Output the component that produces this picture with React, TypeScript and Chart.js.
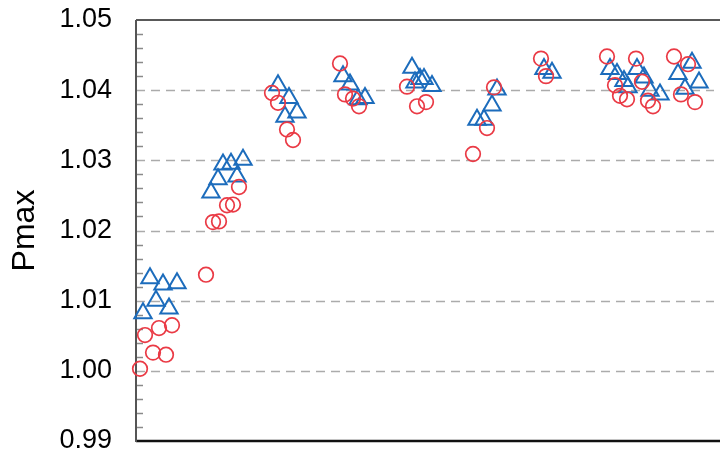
import React, { useEffect, useRef } from 'react';
import { Chart, registerables } from 'chart.js';

Chart.register(...registerables);

// Y axis
const yMin = 0.99;
const yMax = 1.05;
const yStep = 0.01;
const yMinorStep = 0.002;
const yTickLabels = ['0.99', '1.00', '1.01', '1.02', '1.03', '1.04', '1.05'];
const yTitle = 'Pmax';

// Horizontal position of each sample (arbitrary units, no tick labels shown)
const xMin = 0;
const xMax = 58.4;

// Series 1: red circles
const circleX = [
  0.4, 0.9, 2.3, 3.6, 1.7, 3.0,
  7.0, 7.7, 8.3, 9.1, 9.7, 10.3,
  13.6, 14.2, 15.1, 15.7,
  20.4, 20.9, 21.7, 22.3,
  27.1, 28.1, 29.0,
  33.7, 35.1, 35.8,
  40.5, 41.0,
  47.1, 47.9, 48.4, 49.1, 50.0, 50.6, 51.2, 51.7,
  53.8, 55.2, 54.5, 55.9,
];
const circleY = [
  1.0003, 1.0051, 1.0061, 1.0065, 1.0026, 1.0023,
  1.0137, 1.0212, 1.0213, 1.0236, 1.0237, 1.0262,
  1.0396, 1.0382, 1.0344, 1.0329,
  1.0438, 1.0394, 1.0388, 1.0377,
  1.0405, 1.0377, 1.0383,
  1.0309, 1.0346, 1.0404,
  1.0445, 1.0420,
  1.0448, 1.0407, 1.0392, 1.0387, 1.0445, 1.0412, 1.0385, 1.0377,
  1.0448, 1.0437, 1.0394, 1.0383,
];

// Series 2: blue triangles
const triangleX = [
  1.4, 2.7, 4.1, 2.0, 3.3, 0.7,
  7.5, 8.2, 8.7, 9.5, 10.1, 10.7,
  14.2, 15.3, 14.9, 16.1,
  20.7, 21.4, 22.2, 22.9,
  27.6, 27.9, 28.4, 28.8, 29.6,
  34.1, 34.8, 35.6, 36.1,
  40.8, 41.6,
  47.4, 48.1, 48.8, 49.2, 50.1, 50.8, 51.4, 52.4,
  54.2, 55.6, 54.9, 56.3,
];
const triangleY = [
  1.0132, 1.0123, 1.0125, 1.0100, 1.0089, 1.0082,
  1.0254, 1.0273, 1.0294, 1.0295, 1.0277, 1.0301,
  1.0407, 1.0389, 1.0362, 1.0368,
  1.0420, 1.0408, 1.0387, 1.0389,
  1.0432, 1.0411, 1.0416, 1.0416, 1.0406,
  1.0358, 1.0358, 1.0378, 1.0401,
  1.0430, 1.0425,
  1.0430, 1.0423, 1.0413, 1.0404, 1.0430, 1.0418, 1.0399, 1.0394,
  1.0423, 1.0439, 1.0402, 1.0411,
];

const zip = (xs: number[], ys: number[]) => xs.map((x, i) => ({ x, y: ys[i] }));

const framePlugin = {
  id: 'frame',
  beforeDatasetsDraw(chart: any) {
    const { ctx, chartArea, scales } = chart;
    const { left, right, top, bottom } = chartArea;
    const y = scales.y;
    ctx.save();

    // dashed horizontal grid lines at inner major ticks
    ctx.setLineDash([9, 6]);
    ctx.strokeStyle = '#ababab';
    ctx.lineWidth = 1.5;
    const nMajor = Math.round((yMax - yMin) / yStep);
    for (let i = 1; i < nMajor; i++) {
      const py = Math.round(y.getPixelForValue(yMin + i * yStep)) + 0.5;
      ctx.beginPath();
      ctx.moveTo(left, py);
      ctx.lineTo(right - 6, py);
      ctx.stroke();
    }
    ctx.setLineDash([]);

    // inward minor ticks
    ctx.strokeStyle = '#8a8a8a';
    ctx.lineWidth = 1.5;
    const nMinor = Math.round((yMax - yMin) / yMinorStep);
    const perMajor = Math.round(yStep / yMinorStep);
    for (let i = 1; i < nMinor; i++) {
      if (i % perMajor === 0) continue;
      const py = Math.round(y.getPixelForValue(yMin + i * yMinorStep)) + 0.5;
      ctx.beginPath();
      ctx.moveTo(left, py);
      ctx.lineTo(left + 7, py);
      ctx.stroke();
    }

    // top border
    ctx.strokeStyle = '#222';
    ctx.lineWidth = 1.5;
    ctx.beginPath();
    ctx.moveTo(left, top);
    ctx.lineTo(right, top);
    ctx.stroke();

    // bottom border
    ctx.strokeStyle = '#111';
    ctx.lineWidth = 2.5;
    ctx.beginPath();
    ctx.moveTo(left, bottom);
    ctx.lineTo(right, bottom);
    ctx.stroke();

    // left axis line
    ctx.strokeStyle = '#555';
    ctx.lineWidth = 2;
    ctx.beginPath();
    ctx.moveTo(left, top);
    ctx.lineTo(left, bottom + 1);
    ctx.stroke();

    ctx.restore();
  },
};

export default function App() {
  const canvasRef = useRef<HTMLCanvasElement | null>(null);

  useEffect(() => {
    const canvas = canvasRef.current;
    if (!canvas) return;
    const chart = new Chart(canvas, {
      type: 'scatter',
      data: {
        datasets: [
          {
            label: 'circle',
            data: zip(circleX, circleY),
            pointStyle: 'circle',
            pointRadius: 7.3,
            pointBorderWidth: 1.7,
            pointBorderColor: '#ea3a45',
            pointBackgroundColor: 'rgba(0,0,0,0)',
            clip: false,
          },
          {
            label: 'triangle',
            data: zip(triangleX, triangleY),
            pointStyle: 'triangle',
            pointRadius: 10,
            pointBorderWidth: 2,
            pointBorderColor: '#1c6cbc',
            pointBackgroundColor: 'rgba(0,0,0,0)',
            clip: false,
          },
        ],
      },
      options: {
        responsive: false,
        animation: false,
        devicePixelRatio: 1,
        layout: { autoPadding: false, padding: { top: 20, bottom: 16, left: 0, right: 0 } },
        plugins: {
          legend: { display: false },
          tooltip: { enabled: false },
        },
        scales: {
          x: {
            type: 'linear',
            min: xMin,
            max: xMax,
            display: false,
          },
          y: {
            type: 'linear',
            min: yMin,
            max: yMax,
            grid: { display: false, drawTicks: false },
            border: { display: false },
            afterFit: (s: any) => {
              s.width = 136;
              s.paddingTop = 0;
              s.paddingBottom = 0;
            },
            ticks: {
              stepSize: yStep,
              padding: 24,
              color: '#000',
              font: { family: '"Liberation Sans", Arial, sans-serif', size: 27 },
              callback: (_v: any, i: number) => yTickLabels[i],
            },
            title: {
              display: true,
              text: yTitle,
              color: '#000',
              padding: { top: 6, bottom: 0 },
              font: { family: '"Liberation Sans", Arial, sans-serif', size: 32 },
            },
          },
        },
      },
      plugins: [framePlugin],
    });
    return () => chart.destroy();
  }, []);

  return (
    <div style={{ position: 'absolute', left: 0, top: 0, width: 720, height: 457, background: '#fff' }}>
      <canvas ref={canvasRef} width={720} height={457} style={{ display: 'block' }} />
    </div>
  );
}
